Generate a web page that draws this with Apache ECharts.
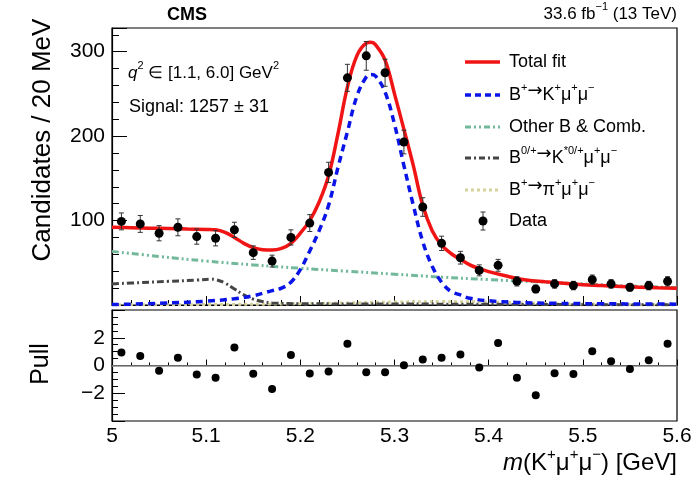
<!DOCTYPE html>
<html>
<head>
<meta charset="utf-8">
<script src="https://cdn.jsdelivr.net/npm/echarts@6/dist/echarts.min.js"></script>
<style>
  html, body { margin: 0; padding: 0; background: #fff; }
  #chart { width: 695px; height: 483px; }
</style>
</head>
<body>
<div id="chart"></div>
<script>
// binned data, 20 MeV bins
const binCenters = [5.01, 5.03, 5.05, 5.07, 5.09, 5.11, 5.13, 5.15, 5.17, 5.19,
  5.21, 5.23, 5.25, 5.27, 5.29, 5.31, 5.33, 5.35, 5.37, 5.39,
  5.41, 5.43, 5.45, 5.47, 5.49, 5.51, 5.53, 5.55, 5.57, 5.59];
const counts = [99, 96, 85, 92, 81, 79, 89, 62, 52, 80,
  97, 157, 269, 295, 275, 193, 116, 73, 56, 41,
  47, 28, 19, 25, 23, 30, 25, 21, 23, 28];
const errors = [10, 10, 9, 10, 9, 9, 9, 8, 7, 9,
  10, 12, 16, 17, 16, 14, 11, 8.5, 7.5, 6.5,
  7, 5.5, 4.5, 5, 5, 5.5, 5, 4.5, 5, 5.5];
const pulls = [0.93, 0.69, -0.38, 0.55, -0.64, -0.88, 1.29, -0.6, -1.69, 0.76,
  -0.57, -0.43, 1.57, -0.48, -0.48, 0.02, 0.43, 0.55, 0.79, -0.14,
  1.62, -0.88, -2.14, -0.55, -0.62, 1.02, 0.31, -0.26, 0.38, 1.57];

// fit curves
const fitMass = [5.00, 5.02, 5.04, 5.06, 5.08, 5.10, 5.11, 5.12, 5.13, 5.14, 5.15, 5.16, 5.17, 5.18, 5.19,
  5.20, 5.21, 5.22, 5.23, 5.24, 5.25, 5.26, 5.27, 5.275, 5.28, 5.29, 5.30, 5.31, 5.32, 5.33, 5.34,
  5.35, 5.36, 5.37, 5.38, 5.39, 5.40, 5.42, 5.44, 5.46, 5.48, 5.50, 5.52, 5.54, 5.56, 5.58, 5.60];
const totalFit = [92, 91.5, 91, 90.5, 90, 89.5, 89, 86, 80, 73, 68, 65.5, 65, 67, 73,
  85, 100, 122, 153, 203, 258, 295, 310, 311, 308, 290, 250, 208, 165, 118, 88,
  71, 61, 54, 47.5, 43, 39.5, 34, 29.5, 27.5, 25.7, 24, 23, 21.8, 21, 20.3, 19.8];

const sigMass = [5.00, 5.05, 5.10, 5.13, 5.15, 5.17, 5.18, 5.19, 5.20, 5.21, 5.22, 5.23, 5.24,
  5.25, 5.26, 5.27, 5.275, 5.28, 5.29, 5.30, 5.31, 5.32, 5.33, 5.34, 5.35, 5.36, 5.37, 5.38,
  5.40, 5.43, 5.47, 5.52, 5.60];
const signal = [0.5, 2, 4.5, 7.5, 11, 17, 20, 27, 42, 64, 88, 118, 163,
  205, 247, 270, 273, 271, 252, 214, 165, 118, 75, 46, 27, 16, 12, 8,
  5, 3, 2, 1.5, 1];

const combMass = [5.00, 5.05, 5.10, 5.15, 5.20, 5.25, 5.30, 5.35, 5.40, 5.45, 5.50, 5.55, 5.60];
const otherComb = [63.5, 57.5, 52, 47.5, 43.5, 40, 36.5, 33, 30, 27.5, 25, 22.5, 20.5];

const kstMass = [5.00, 5.03, 5.06, 5.09, 5.105, 5.11, 5.12, 5.13, 5.14, 5.15, 5.16, 5.17, 5.20, 5.30, 5.40, 5.50, 5.60];
const kstar = [25, 26.5, 28, 29.5, 30.5, 30, 26, 19, 12, 7, 4, 2.5, 1.5, 1.2, 0.8, 0.4, 0.2];

const piMass = [5.00, 5.10, 5.20, 5.25, 5.30, 5.35, 5.40, 5.45, 5.50, 5.55, 5.60];
const pion = [0.3, 0.5, 1.5, 2.5, 3.5, 4, 3.5, 2, 1, 0.5, 0.3];

const FONT = "'Liberation Sans', Arial, Helvetica, sans-serif";
const RED = "#f01414";
const BLUE = "#0a14e6";
const GREEN = "#72b99b";
const GREY = "#454545";
const KHAKI = "#d6d29c";

const zip = (xs, ys) => xs.map((x, i) => [x, ys[i]]);

const chart = echarts.init(document.getElementById("chart"));

const renderErrorBar = (params, api) => {
  const x = api.value(0);
  const y = api.value(1);
  const e = api.value(2);
  const top = api.coord([x, y + e]);
  const bot = api.coord([x, y - e]);
  const cap = 2.5;
  const st = { stroke: "#333", lineWidth: 1 };
  return {
    type: "group",
    children: [
      { type: "line", shape: { x1: top[0], y1: top[1], x2: bot[0], y2: bot[1] }, style: st },
      { type: "line", shape: { x1: top[0] - cap, y1: top[1], x2: top[0] + cap, y2: top[1] }, style: st },
      { type: "line", shape: { x1: bot[0] - cap, y1: bot[1], x2: bot[0] + cap, y2: bot[1] }, style: st },
    ],
  };
};

// rich text styles for sub/superscripts and the arrow
const rich = (size) => ({
  n: { fontSize: size, fontFamily: FONT, lineHeight: size + 8, fill: "#000" },
  i: { fontSize: size, fontFamily: FONT, fontStyle: "italic", lineHeight: size + 8, fill: "#000" },
  a: { fontSize: size, fontFamily: "'DejaVu Sans', sans-serif", lineHeight: size + 5, verticalAlign: "top", fill: "#000" },
  s: { fontSize: Math.round(size * 0.62), fontFamily: FONT, lineHeight: Math.round(size * 0.62) + 1, verticalAlign: "top", fill: "#000" },
});

const legendText = (y, text) => ({
  type: "text",
  x: 509,
  y: y,
  style: { text: text, rich: rich(18), align: "left", verticalAlign: "middle", fontFamily: FONT, fontSize: 18 },
});
const legendLine = (y, color, width, dash) => ({
  type: "line",
  shape: { x1: 465, y1: y, x2: 500, y2: y },
  style: { stroke: color, lineWidth: width, lineDash: dash },
});

const axisBase = {
  axisLine: { lineStyle: { color: "#000", width: 1.2 } },
  splitLine: { show: false },
};

const option = {
  animation: false,
  backgroundColor: "#fff",
  grid: [
    { left: 112, top: 28, width: 565, height: 277, show: true, borderColor: "#000", borderWidth: 1.2 },
    { left: 112, top: 310, width: 565, height: 111, show: true, borderColor: "#000", borderWidth: 1.2 },
  ],
  xAxis: [
    {
      ...axisBase,
      gridIndex: 0, type: "value", min: 5, max: 5.6, interval: 0.1,
      axisLabel: { show: false },
      axisTick: { inside: true, length: 9, lineStyle: { color: "#000", width: 1 } },
      minorTick: { show: true, splitNumber: 5, length: 5, lineStyle: { color: "#000", width: 1 } },
    },
    {
      ...axisBase,
      gridIndex: 1, type: "value", min: 5, max: 5.6, interval: 0.1,
      axisLabel: { fontSize: 21, color: "#000", fontFamily: FONT, margin: 5 },
      axisTick: { inside: true, length: 6, lineStyle: { color: "#000", width: 1 } },
      minorTick: { show: true, splitNumber: 5, length: 3, lineStyle: { color: "#000", width: 1 } },
    },
  ],
  yAxis: [
    {
      ...axisBase,
      gridIndex: 0, type: "value", min: 0, max: 328, interval: 100,
      axisLabel: {
        fontSize: 21, color: "#000", fontFamily: FONT, margin: 7, showMaxLabel: false,
        formatter: (v) => (v > 0 && v % 100 === 0 ? String(v) : ""),
      },
      axisTick: { inside: true, length: 15, lineStyle: { color: "#000", width: 1 } },
      minorTick: { show: true, splitNumber: 5, length: 7, lineStyle: { color: "#000", width: 1 } },
    },
    {
      ...axisBase,
      gridIndex: 1, type: "value", min: -4, max: 4, interval: 2,
      axisLabel: {
        fontSize: 21, color: "#000", fontFamily: FONT, margin: 7,
        formatter: (v) => (Math.abs(v) < 3 ? (v < 0 ? "\u2212" + Math.abs(v) : String(v)) : ""),
      },
      axisTick: { inside: true, length: 13, lineStyle: { color: "#000", width: 1 } },
      minorTick: { show: true, splitNumber: 4, length: 6, lineStyle: { color: "#000", width: 1 } },
    },
  ],
  series: [
    {
      name: "pion", type: "line", xAxisIndex: 0, yAxisIndex: 0, data: zip(piMass, pion),
      smooth: 0.4, showSymbol: false, lineStyle: { color: KHAKI, width: 3, type: [3, 3] }, z: 2,
    },
    {
      name: "kstar", type: "line", xAxisIndex: 0, yAxisIndex: 0, data: zip(kstMass, kstar),
      smooth: 0.4, showSymbol: false, lineStyle: { color: GREY, width: 3, type: [7, 3, 2, 3] }, z: 2,
    },
    {
      name: "comb", type: "line", xAxisIndex: 0, yAxisIndex: 0, data: zip(combMass, otherComb),
      smooth: 0.4, showSymbol: false, lineStyle: { color: GREEN, width: 3, type: [7, 3, 2, 3, 2, 3] }, z: 2,
    },
    {
      name: "signal", type: "line", xAxisIndex: 0, yAxisIndex: 0, data: zip(sigMass, signal),
      smooth: 0.4, showSymbol: false, lineStyle: { color: BLUE, width: 3.5, type: [7, 5] }, z: 3,
    },
    {
      name: "total", type: "line", xAxisIndex: 0, yAxisIndex: 0, data: zip(fitMass, totalFit),
      smooth: 0.4, showSymbol: false, lineStyle: { color: RED, width: 3.5 }, z: 4,
    },
    {
      name: "errors", type: "custom", xAxisIndex: 0, yAxisIndex: 0,
      data: binCenters.map((m, i) => [m, counts[i], errors[i]]),
      renderItem: renderErrorBar, z: 5,
    },
    {
      name: "data", type: "scatter", xAxisIndex: 0, yAxisIndex: 0,
      data: zip(binCenters, counts), symbolSize: 9, itemStyle: { color: "#000", opacity: 1 }, z: 6,
    },
    {
      name: "pull", type: "scatter", xAxisIndex: 1, yAxisIndex: 1,
      data: zip(binCenters, pulls), symbolSize: 8, itemStyle: { color: "#000", opacity: 1 }, z: 6,
      markLine: {
        silent: true, symbol: "none", label: { show: false },
        lineStyle: { color: "#8a8a8a", type: "solid", width: 1.5 },
        data: [{ yAxis: 0 }],
      },
    },
  ],
  graphic: [
    { type: "text", x: 187, y: 15, style: { text: "CMS", font: "bold 18px " + FONT, fill: "#000", align: "center", verticalAlign: "middle" } },
    {
      type: "text", x: 677, y: 14,
      style: { text: "{n|33.6 fb}{s|\u22121}{n| (13 TeV)}", rich: rich(17), align: "right", verticalAlign: "middle", fontSize: 17, fontFamily: FONT },
    },
    {
      type: "text", x: 128, y: 73,
      style: { text: "{i|q}{s|2}{n| \u2208 [1.1, 6.0] GeV}{s|2}", rich: rich(17), align: "left", verticalAlign: "middle", fontSize: 17, fontFamily: FONT },
    },
    {
      type: "text", x: 129, y: 107,
      style: { text: "Signal: 1257 \u00b1 31", font: "18px " + FONT, fill: "#000", align: "left", verticalAlign: "middle" },
    },
    // legend
    legendLine(62, RED, 3.5, null),
    legendText(62, "{n|Total fit}"),
    legendLine(95, BLUE, 3.5, [6, 4]),
    legendText(95, "{n|B}{s|+}{a|\u2192}{n|K}{s|+}{n|\u03bc}{s|+}{n|\u03bc}{s|\u2212}"),
    legendLine(127, GREEN, 3, [6, 3, 2, 3, 2, 3]),
    legendText(127, "{n|Other B & Comb.}"),
    legendLine(158, GREY, 3, [6, 3, 2, 3]),
    legendText(158, "{n|B}{s|0/+}{a|\u2192}{n|K}{s|*0/+}{n|\u03bc}{s|+}{n|\u03bc}{s|\u2212}"),
    legendLine(190, KHAKI, 3, [3, 3]),
    legendText(190, "{n|B}{s|+}{a|\u2192}{n|\u03c0}{s|+}{n|\u03bc}{s|+}{n|\u03bc}{s|\u2212}"),
    { type: "line", shape: { x1: 483, y1: 212, x2: 483, y2: 230 }, style: { stroke: "#333", lineWidth: 1 } },
    { type: "line", shape: { x1: 480.5, y1: 212, x2: 485.5, y2: 212 }, style: { stroke: "#333", lineWidth: 1 } },
    { type: "line", shape: { x1: 480.5, y1: 230, x2: 485.5, y2: 230 }, style: { stroke: "#333", lineWidth: 1 } },
    { type: "circle", shape: { cx: 483, cy: 221, r: 4.5 }, style: { fill: "#000" } },
    legendText(221, "{n|Data}"),
    // axis titles
    {
      type: "text", x: 43, y: 140, rotation: Math.PI / 2,
      style: { text: "Candidates / 20 MeV", font: "26px " + FONT, fill: "#000", align: "center", verticalAlign: "middle" },
    },
    {
      type: "text", x: 41, y: 364, rotation: Math.PI / 2,
      style: { text: "Pull", font: "25px " + FONT, fill: "#000", align: "center", verticalAlign: "middle" },
    },
    {
      type: "text", x: 677, y: 463,
      style: { text: "{i|m}{n|(K}{s|+}{n|\u03bc}{s|+}{n|\u03bc}{s|\u2212}{n|) [GeV]}", rich: rich(24), align: "right", verticalAlign: "middle", fontSize: 24, fontFamily: FONT },
    },
  ],
};

chart.setOption(option);
</script>
</body>
</html>
